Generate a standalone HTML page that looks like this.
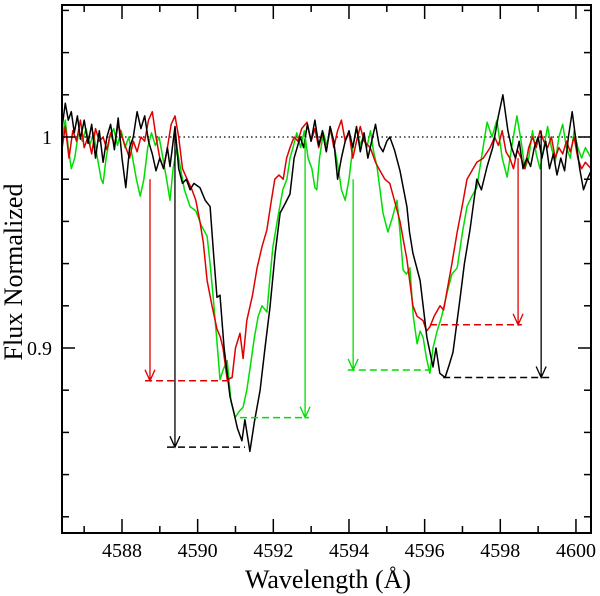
<!DOCTYPE html>
<html><head><meta charset="utf-8"><style>
html,body{margin:0;padding:0;background:#fff;}
svg{display:block;font-family:"Liberation Serif",serif;}
</style></head><body>
<svg id="chart" width="600" height="596" xmlns="http://www.w3.org/2000/svg">
<g id="series"></g>
<g id="annot"></g>
<g id="axes"></g>
<text x="328" y="588" font-size="26" text-anchor="middle">Wavelength (Å)</text>
<text x="0" y="0" font-size="26" text-anchor="middle" transform="translate(22,272) rotate(-90)">Flux Normalized</text>
</svg>
<script>
const xTicksMajor=[4588,4590,4592,4594,4596,4598,4600];
const xTicksMinor=[4587,4589,4591,4593,4595,4597,4599];
const yTicksMajor=[0.9,1.0];
const yTickLabels=["0.9","1"];
const yTicksMinor=[0.82,0.84,0.86,0.88,0.92,0.94,0.96,0.98,1.02,1.04,1.06];
const blackSpec=[[4586.42,1.005],[4586.5,1.016],[4586.58,1.008],[4586.66,1.012],[4586.74,1.002],[4586.82,1.01],[4586.9,0.999],[4587.0,1.008],[4587.1,0.997],[4587.2,1.006],[4587.3,0.99],[4587.4,1.003],[4587.5,0.988],[4587.6,1.0],[4587.7,1.006],[4587.8,0.994],[4587.9,1.009],[4588.0,0.99],[4588.1,0.976],[4588.2,0.995],[4588.3,1.0],[4588.4,1.012],[4588.5,1.004],[4588.6,1.01],[4588.7,0.998],[4588.8,0.992],[4588.9,0.984],[4589.0,0.99],[4589.1,0.985],[4589.2,0.995],[4589.27,0.986],[4589.4,1.005],[4589.5,0.985],[4589.6,0.978],[4589.7,0.98],[4589.8,0.975],[4589.9,0.978],[4590.06,0.976],[4590.2,0.97],[4590.33,0.967],[4590.42,0.945],[4590.51,0.924],[4590.59,0.925],[4590.7,0.9],[4590.855,0.877],[4590.95,0.87],[4591.05,0.862],[4591.17,0.856],[4591.25,0.866],[4591.38,0.851],[4591.5,0.865],[4591.65,0.88],[4591.78,0.9],[4591.91,0.919],[4592.05,0.945],[4592.18,0.964],[4592.3,0.968],[4592.44,0.973],[4592.55,0.99],[4592.71,1.0],[4592.8,0.995],[4592.9,1.006],[4593.0,0.998],[4593.1,1.008],[4593.2,0.996],[4593.3,1.003],[4593.4,0.993],[4593.5,1.005],[4593.6,0.998],[4593.7,0.98],[4593.8,0.99],[4593.9,0.998],[4594.0,1.003],[4594.1,0.995],[4594.2,1.005],[4594.3,0.993],[4594.4,1.002],[4594.5,0.99],[4594.6,0.998],[4594.7,1.006],[4594.8,0.996],[4594.9,0.993],[4595.0,0.998],[4595.08,1.0],[4595.2,0.994],[4595.35,0.984],[4595.53,0.967],[4595.6,0.955],[4595.69,0.945],[4595.88,0.932],[4596.06,0.905],[4596.22,0.891],[4596.3,0.9],[4596.4,0.888],[4596.54,0.886],[4596.65,0.892],[4596.75,0.898],[4596.94,0.924],[4597.05,0.94],[4597.2,0.956],[4597.38,0.98],[4597.5,0.975],[4597.65,0.986],[4597.8,0.995],[4597.95,1.01],[4598.07,1.02],[4598.2,1.003],[4598.3,0.995],[4598.4,0.99],[4598.5,0.998],[4598.6,0.985],[4598.7,0.99],[4598.8,0.986],[4598.9,0.995],[4599.0,1.0],[4599.1,0.99],[4599.2,0.998],[4599.3,0.985],[4599.4,0.992],[4599.5,0.982],[4599.6,0.99],[4599.7,0.984],[4599.8,1.0],[4599.9,1.012],[4600.0,0.998],[4600.1,0.985],[4600.2,0.975],[4600.3,0.98],[4600.4,0.984]];
const redSpec=[[4586.42,0.995],[4586.5,1.005],[4586.6,0.99],[4586.7,1.003],[4586.8,0.998],[4586.9,1.008],[4587.0,0.995],[4587.1,1.0],[4587.2,0.992],[4587.3,1.004],[4587.4,0.998],[4587.5,1.0],[4587.6,0.994],[4587.7,1.002],[4587.8,0.996],[4587.9,1.006],[4588.0,1.0],[4588.1,0.995],[4588.2,0.99],[4588.3,0.998],[4588.4,0.993],[4588.5,1.0],[4588.6,0.998],[4588.7,1.008],[4588.8,1.012],[4588.9,1.0],[4589.0,0.99],[4589.1,0.985],[4589.2,0.995],[4589.3,1.006],[4589.4,1.01],[4589.5,1.0],[4589.6,0.985],[4589.72,0.98],[4589.85,0.975],[4589.95,0.97],[4590.06,0.96],[4590.15,0.95],[4590.25,0.932],[4590.38,0.92],[4590.51,0.909],[4590.6,0.905],[4590.67,0.9],[4590.78,0.885],[4590.91,0.886],[4591.0,0.9],[4591.12,0.907],[4591.2,0.895],[4591.3,0.913],[4591.45,0.925],[4591.57,0.938],[4591.7,0.948],[4591.83,0.956],[4591.95,0.97],[4592.04,0.98],[4592.15,0.982],[4592.26,0.98],[4592.35,0.99],[4592.44,0.995],[4592.55,1.0],[4592.65,0.998],[4592.75,1.004],[4592.89,1.007],[4593.0,0.998],[4593.1,1.004],[4593.2,0.995],[4593.3,1.002],[4593.4,0.993],[4593.5,1.005],[4593.6,0.995],[4593.7,1.003],[4593.8,1.008],[4593.9,0.998],[4594.0,1.002],[4594.1,0.99],[4594.2,0.998],[4594.3,1.005],[4594.4,0.998],[4594.56,0.995],[4594.7,0.988],[4594.82,0.984],[4594.95,0.98],[4595.08,0.978],[4595.2,0.97],[4595.35,0.96],[4595.45,0.95],[4595.53,0.942],[4595.69,0.92],[4595.8,0.915],[4595.96,0.913],[4596.05,0.908],[4596.14,0.91],[4596.25,0.915],[4596.41,0.92],[4596.5,0.918],[4596.59,0.927],[4596.72,0.94],[4596.86,0.955],[4597.0,0.968],[4597.12,0.98],[4597.25,0.984],[4597.38,0.988],[4597.55,0.99],[4597.73,0.995],[4597.85,1.0],[4597.95,0.996],[4598.05,1.003],[4598.15,0.993],[4598.25,0.99],[4598.35,0.985],[4598.45,0.994],[4598.55,0.99],[4598.65,0.985],[4598.75,0.995],[4598.85,1.0],[4598.95,0.995],[4599.05,1.003],[4599.15,0.998],[4599.25,0.995],[4599.35,1.0],[4599.45,0.99],[4599.55,0.995],[4599.65,0.992],[4599.75,0.998],[4599.85,0.993],[4599.95,1.0],[4600.05,0.99],[4600.15,0.985],[4600.25,0.988],[4600.4,0.985]];
const greenSpec=[[4586.42,1.0],[4586.5,1.008],[4586.58,0.995],[4586.66,0.985],[4586.75,0.99],[4586.85,1.002],[4586.95,0.998],[4587.05,1.004],[4587.15,0.996],[4587.25,1.002],[4587.35,0.99],[4587.45,0.98],[4587.5,0.978],[4587.58,0.99],[4587.68,1.0],[4587.78,1.004],[4587.88,0.996],[4587.98,1.003],[4588.08,0.995],[4588.18,1.0],[4588.28,0.99],[4588.38,0.98],[4588.48,0.972],[4588.58,0.98],[4588.68,0.995],[4588.78,1.002],[4588.88,0.996],[4588.98,1.0],[4589.08,0.99],[4589.18,0.98],[4589.27,0.97],[4589.35,0.985],[4589.45,0.995],[4589.55,0.985],[4589.65,0.975],[4589.8,0.967],[4589.95,0.965],[4590.1,0.958],[4590.25,0.953],[4590.33,0.94],[4590.41,0.924],[4590.5,0.905],[4590.59,0.885],[4590.68,0.89],[4590.78,0.894],[4590.88,0.875],[4590.99,0.867],[4591.1,0.87],[4591.2,0.872],[4591.3,0.88],[4591.38,0.89],[4591.5,0.905],[4591.6,0.915],[4591.7,0.92],[4591.83,0.917],[4591.92,0.935],[4591.99,0.948],[4592.12,0.962],[4592.25,0.975],[4592.36,0.98],[4592.44,0.99],[4592.52,0.995],[4592.62,1.002],[4592.72,0.995],[4592.82,1.003],[4592.92,0.99],[4593.02,0.985],[4593.1,0.976],[4593.15,0.975],[4593.22,0.99],[4593.32,1.002],[4593.42,0.996],[4593.52,1.004],[4593.62,0.995],[4593.72,0.985],[4593.8,0.975],[4593.9,0.97],[4594.0,0.98],[4594.1,0.995],[4594.2,1.004],[4594.3,0.996],[4594.37,1.0],[4594.47,0.995],[4594.57,1.003],[4594.65,0.993],[4594.74,0.986],[4594.82,0.975],[4594.9,0.964],[4595.03,0.955],[4595.15,0.962],[4595.27,0.97],[4595.35,0.955],[4595.43,0.937],[4595.52,0.935],[4595.61,0.938],[4595.7,0.915],[4595.8,0.902],[4595.88,0.908],[4595.96,0.905],[4596.05,0.895],[4596.14,0.888],[4596.22,0.9],[4596.33,0.908],[4596.45,0.915],[4596.59,0.926],[4596.72,0.935],[4596.86,0.938],[4597.0,0.955],[4597.12,0.967],[4597.25,0.972],[4597.38,0.976],[4597.5,0.99],[4597.65,1.007],[4597.78,1.0],[4597.91,1.008],[4598.05,0.99],[4598.18,0.981],[4598.3,0.995],[4598.44,1.01],[4598.55,0.998],[4598.65,0.985],[4598.75,0.99],[4598.85,1.003],[4598.95,0.992],[4599.05,0.985],[4599.15,0.995],[4599.25,1.005],[4599.35,0.995],[4599.45,0.988],[4599.55,1.0],[4599.65,1.006],[4599.75,0.995],[4599.85,0.99],[4599.95,1.003],[4600.05,0.995],[4600.15,0.99],[4600.25,0.995],[4600.4,0.99]];
const arrowColors=["#e00000","#000000","#00dd00","#00dd00","#e00000","#000000"];
const arrowX=[4588.74,4589.40,4592.84,4594.11,4598.47,4599.08];
const arrowTop=[0.98,1.004,1.0,0.98,0.99,1.003];
const arrowBottom=[0.8845,0.853,0.867,0.8896,0.911,0.886];
const dashStart=[4588.61,4589.19,4591.12,4593.97,4596.14,4596.49];
const dashEnd=[4590.91,4591.25,4592.94,4596.14,4598.57,4599.39];

const L=62,R=591,T=5,B=533;
const x0=4586.414,xs=37.83;
function X(w){return L+(w-x0)*xs;}
function Y(f){return 137+(1-f)*2110;}
const NS="http://www.w3.org/2000/svg";
function mk(tag,parent){const e=document.createElementNS(NS,tag);parent.appendChild(e);return e;}
const sg=document.getElementById('series'),ag=document.getElementById('annot'),xg=document.getElementById('axes');

const dl=mk('line',sg);


dl.setAttribute('x1',L);dl.setAttribute('x2',R);dl.setAttribute('y1',Y(1));dl.setAttribute('y2',Y(1));
dl.setAttribute('stroke','#000');dl.setAttribute('stroke-width','1.2');dl.setAttribute('stroke-dasharray','1.5,3');

function drawSeries(data,color,name){
  const p=mk('polyline',sg);
  
  
  p.setAttribute('points',data.map(d=>X(d[0]).toFixed(1)+','+Y(d[1]).toFixed(1)).join(' '));
  p.setAttribute('fill','none');p.setAttribute('stroke',color);p.setAttribute('stroke-width','1.5');p.setAttribute('stroke-linejoin','round');
}
drawSeries(greenSpec,'#00dd00','green-spectrum');
drawSeries(redSpec,'#e00000','red-spectrum');
drawSeries(blackSpec,'#000000','black-spectrum');

for(let i=0;i<arrowX.length;i++){
  const c=arrowColors[i],x=X(arrowX[i]),y1=Y(arrowTop[i]),y2=Y(arrowBottom[i]);
  const a=mk('path',ag);
  
  
  a.setAttribute('d',`M${x},${y1}L${x},${y2}M${x-5},${y2-11}L${x},${y2}L${x+5},${y2-11}`);
  a.setAttribute('stroke',c);a.setAttribute('stroke-width','1.3');a.setAttribute('fill','none');
  const d=mk('line',ag);
  
  
  d.setAttribute('x1',X(dashStart[i]));d.setAttribute('x2',X(dashEnd[i]));d.setAttribute('y1',y2);d.setAttribute('y2',y2);
  d.setAttribute('stroke',c);d.setAttribute('stroke-width','1.5');d.setAttribute('stroke-dasharray','7,4');
}

const fr=mk('rect',xg);


fr.setAttribute('x',L);fr.setAttribute('y',T);fr.setAttribute('width',R-L);fr.setAttribute('height',B-T);
fr.setAttribute('fill','none');fr.setAttribute('stroke','#000');fr.setAttribute('stroke-width','2');
function tick(x1,y1,x2,y2,name){
  const t=mk('line',xg);
  
  
  t.setAttribute('x1',x1);t.setAttribute('y1',y1);t.setAttribute('x2',x2);t.setAttribute('y2',y2);
  t.setAttribute('stroke','#000');t.setAttribute('stroke-width','1.5');
}
xTicksMajor.forEach(w=>{const x=X(w);tick(x,B,x,B-14,'x-major-tick');tick(x,T,x,T+14,'x-major-tick-top');
  const t=mk('text',xg);
  
  
  t.setAttribute('x',x);t.setAttribute('y',557);t.setAttribute('font-size','20');t.setAttribute('text-anchor','middle');t.textContent=String(w);});
xTicksMinor.forEach(w=>{const x=X(w);tick(x,B,x,B-7,'x-minor-tick');tick(x,T,x,T+7,'x-minor-tick-top');});
yTicksMajor.forEach((f,i)=>{const y=Y(f);tick(L,y,L+13,y,'y-major-tick');tick(R,y,R-13,y,'y-major-tick-right');
  const t=mk('text',xg);
  
  
  t.setAttribute('x',52);t.setAttribute('y',y+7);t.setAttribute('font-size','20');t.setAttribute('text-anchor','end');t.textContent=yTickLabels[i];});
yTicksMinor.forEach(f=>{const y=Y(f);tick(L,y,L+7,y,'y-minor-tick');tick(R,y,R-7,y,'y-minor-tick-right');});
</script>
</body></html>
